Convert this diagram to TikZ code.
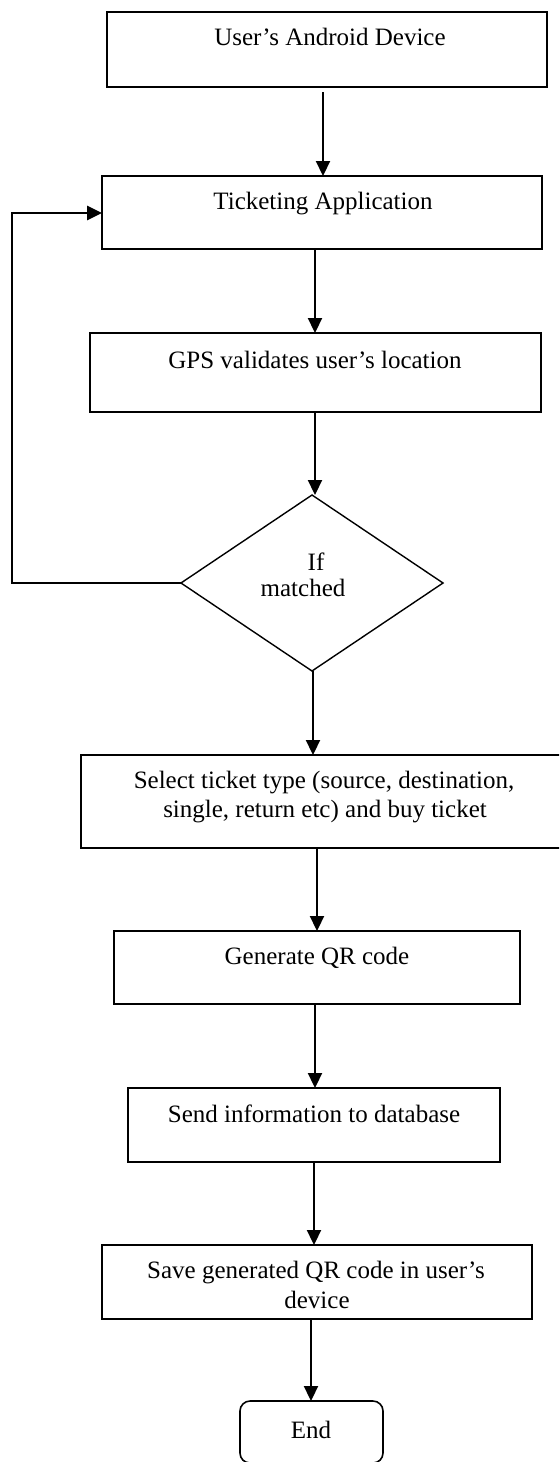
\documentclass[tikz,border=0pt]{standalone}
\usepackage{fontspec}
\setmainfont{Liberation Serif}
\usetikzlibrary{shapes.geometric,arrows.meta}
\begin{document}
\begin{tikzpicture}[x=0.5pt,y=-0.5pt,
  box/.style={draw, line width=0.8pt, inner sep=0pt, outer sep=0pt},
  dia/.style={draw, diamond, line width=0.7pt, inner sep=0pt, outer sep=0pt},
  endbox/.style={draw, rounded corners=5pt, line width=0.8pt, inner sep=0pt, outer sep=0pt},
  txt/.style={anchor=base, inner sep=0pt, font=\fontsize{12.5}{14.5}\selectfont},
  arr/.style={-{Triangle[length=7.5pt,width=7pt]}, line width=1.1pt},
  loopl/.style={-{Triangle[length=7.5pt,width=7pt]}, line width=1.4pt}]
\path[use as bounding box] (0,0) rectangle (559,1462);
\clip (0,0) rectangle (559,1462);

\node[box, minimum width=220pt, minimum height=37.5pt] (b1) at (327,49.5) {};
\node[box, minimum width=220pt, minimum height=36.5pt] (b2) at (322,212.5) {};
\node[box, minimum width=225.5pt, minimum height=39.5pt] (b3) at (315.5,372.5) {};
\node[dia, minimum width=131pt, minimum height=88pt] (d) at (312,583) {};
\node[box, minimum width=240.5pt, minimum height=46.5pt] (b4) at (321.5,801.5) {};
\node[box, minimum width=203pt, minimum height=36.5pt] (b5) at (317,967.5) {};
\node[box, minimum width=186pt, minimum height=37pt] (b6) at (314,1125) {};
\node[box, minimum width=215pt, minimum height=37pt] (b7) at (317,1282) {};
\node[endbox, minimum width=71.5pt, minimum height=31pt] (e) at (311.5,1432) {};

\node[txt] (t1) at (330,45) {User’s Android Device};
\node[txt] (t2) at (323,209) {Ticketing Application};
\node[txt] (t3) at (315,368) {GPS validates user’s location};
\node[txt] (tif) at (316,570) {If};
\node[txt] (tm) at (303,596) {matched};
\node[txt] (t4a) at (324,788) {Select ticket type (source, destination,};
\node[txt] (t4b) at (325,817) {single, return etc) and buy ticket};
\node[txt] (t5) at (317,964) {Generate QR code};
\node[txt] (t6) at (314,1122) {Send information to database};
\node[txt] (t7a) at (316,1278) {Save generated QR code in user’s};
\node[txt] (t7b) at (317,1308) {device};
\node[txt] (te) at (311,1438) {End};

\draw[arr, shorten <=2.5pt] ([xshift=-2pt]b1.south) -- ([xshift=0.5pt]b2.north);
\draw[arr] ([xshift=-3.5pt]b2.south) -- ([xshift=-0.25pt]b3.north);
\draw[arr] ([xshift=-0.25pt]b3.south) -- ([xshift=1.5pt]d.north);
\draw[arr] ([xshift=0.5pt]d.south) -- ([xshift=-4.25pt]b4.north);
\draw[arr] ([xshift=-2.25pt]b4.south) -- (b5.north);
\draw[arr] ([xshift=-1pt]b5.south) -- ([xshift=0.5pt]b6.north);
\draw[arr] (b6.south) -- ([xshift=-1.5pt]b7.north);
\draw[arr] ([xshift=-3pt]b7.south) -- ([xshift=-0.25pt]e.north);

\coordinate (lx) at (12,213);
\draw[loopl] (d.west) -- (d.west -| lx) |- ([yshift=-0.25pt]b2.west);
\end{tikzpicture}
\end{document}
